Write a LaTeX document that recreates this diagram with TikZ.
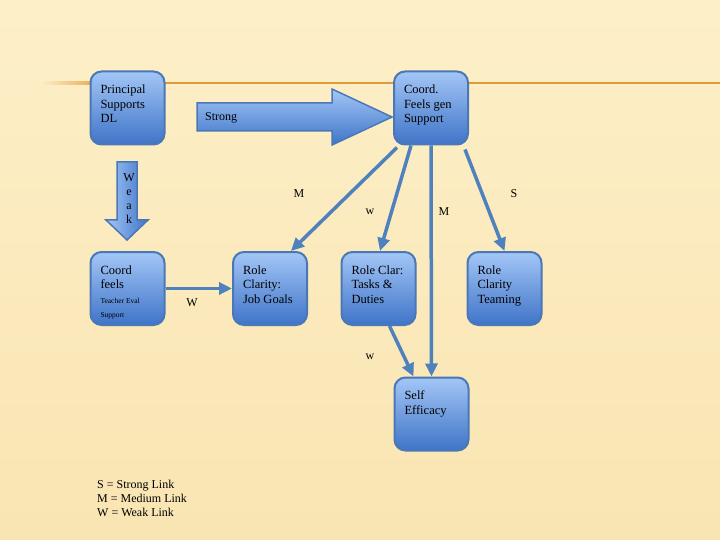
\documentclass[tikz,border=0pt]{standalone}
\usepackage{fontspec}
\setmainfont{Liberation Serif}
\usetikzlibrary{arrows.meta}

\definecolor{paper}{HTML}{FDEFC8}
\definecolor{paperlow}{HTML}{F9E5B2}
\definecolor{rule}{HTML}{E39A38}
\definecolor{boxtop}{HTML}{A3C6F6}
\definecolor{boxbot}{HTML}{3F74C8}
\definecolor{boxline}{HTML}{4A78B6}
\definecolor{linkblue}{HTML}{4F81BD}

\newcommand{\boxtxt}[1]{\parbox[c][58pt][t]{54pt}{\raggedright\vspace*{6pt}#1}}

\begin{document}
\begin{tikzpicture}[x=1pt, y=-1pt,
    box/.style={draw=boxline, line width=2pt, rounded corners=11pt, top color=boxtop, bottom color=boxbot, inner sep=0pt, minimum width=74pt, minimum height=73pt, font=\fontsize{12.5}{14.5}\selectfont},
    link/.style={draw=linkblue, line width=3.5pt, -{Triangle[width=12pt,length=13pt]}},
    lab/.style={font=\fontsize{12}{13}\selectfont, inner sep=0pt, text=black}]

    % Background
    \shade[top color=paper, bottom color=paperlow] (0,0) rectangle (720,540);
    \useasboundingbox (0,0) rectangle (720,540);
    \shade[left color=paper, right color=rule] (40,82) rectangle (110,84.5);
    \fill[rule] (110,82) rectangle (720,84.5);

    % Boxes
    \node (principal) [box] at (127.5,108) {\boxtxt{Principal\\Supports\\DL}};
    \node (coord) [box] at (431,108) {\boxtxt{Coord.\\Feels gen\\Support}};
    \node (feels) [box] at (127.5,288.5) {\boxtxt{Coord\\feels\\{\fontsize{7.5}{16}\selectfont Teacher Eval}\\{\fontsize{7.5}{9}\selectfont Support}}};
    \node (goals) [box] at (270,288.5) {\boxtxt{Role\\Clarity:\\Job Goals}};
    \node (tasks) [box] at (378.5,288.5) {\boxtxt{Role Clar:\\Tasks \&\\Duties}};
    \node (teaming) [box] at (504.5,288.5) {\boxtxt{Role\\Clarity\\Teaming}};
    \node (self) [box] at (431.5,414) {\boxtxt{Self\\Efficacy}};

    % Block arrows
    \draw[boxline, line width=1.5pt, top color=boxtop, bottom color=boxbot]
        (197,103) -- (332,103) -- (332,89) -- (392,117) -- (332,145) -- (332,131) -- (197,131) -- cycle;
    \node (strong) [lab, anchor=west] at (205,118) {Strong};
    \draw[boxline, line width=1.5pt, left color=boxtop, right color=boxbot]
        (117,162) -- (137,162) -- (137,220) -- (148,220) -- (127,240) -- (106,220) -- (117,220) -- cycle;
    \node (weak) [lab, align=center, font=\fontsize{12}{14}\selectfont] at (129,199) {W\\e\\a\\k};

    % Arrows
    \draw[link] (feels.east) -- (goals.west);
    \draw[link] ([xshift=4pt,yshift=-2pt]coord.south west) -- ([xshift=-17pt]goals.north east);
    \draw[link] ([xshift=18pt]coord.south west) -- ([xshift=1.5pt]tasks.north);
    \draw[link] (coord.south) -- (self.north);
    \draw[link] ([xshift=-4pt,yshift=-4pt]coord.south east) -- (teaming.north);
    \draw[link] ([xshift=11pt]tasks.south) -- ([xshift=20pt]self.north west);

    % Link labels
    \node (lM1) [lab] at (299,194) {M};
    \node (lw1) [lab] at (370,212) {w};
    \node (lM2) [lab] at (444,212) {M};
    \node (lS) [lab] at (514,194) {S};
    \node (lW) [lab] at (192,303) {W};
    \node (lw2) [lab] at (370,357) {w};

    % Key
    \node (key) [lab, anchor=north west, align=left, font=\fontsize{12}{14}\selectfont] at (97,480) {S = Strong Link\\M = Medium Link\\W = Weak Link};
\end{tikzpicture}
\end{document}
